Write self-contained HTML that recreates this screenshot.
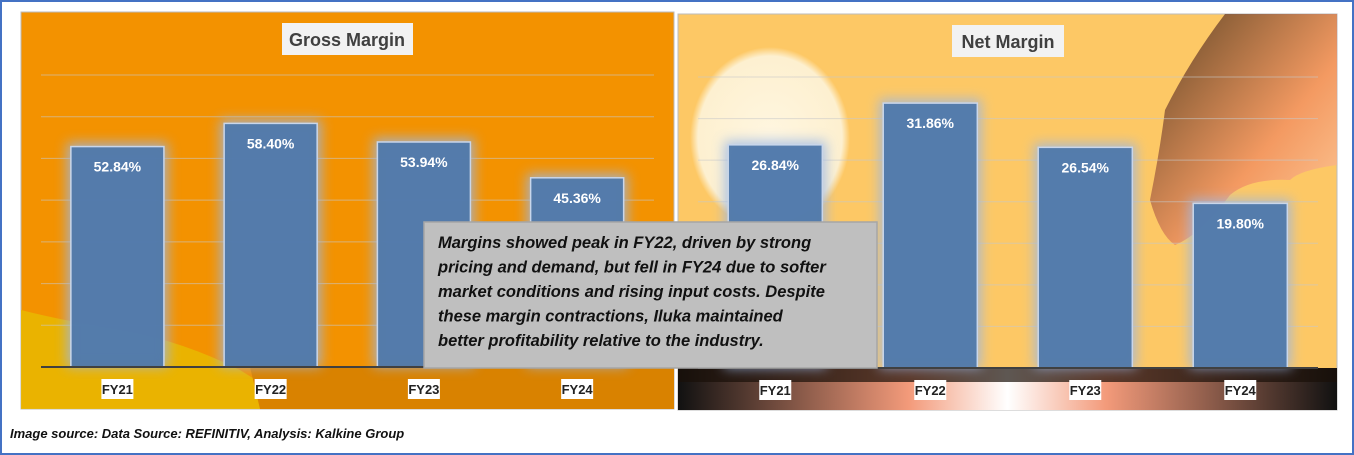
<!DOCTYPE html>
<html><head><meta charset="utf-8"><style>
body{margin:0;width:1354px;height:455px;overflow:hidden;background:#fff;font-family:"Liberation Sans",sans-serif}
svg{display:block}
</style></head><body>
<svg id="s" width="1354" height="455" viewBox="0 0 1354 455">
<defs>
<filter id="glow" x="-30%" y="-30%" width="160%" height="160%"><feGaussianBlur stdDeviation="6"/></filter>
<radialGradient id="sun" cx="0.5" cy="0.5" r="0.5"><stop offset="0" stop-color="#fff6e0"/><stop offset="0.9" stop-color="#fdf0d0"/><stop offset="1" stop-color="#fdc865"/></radialGradient>
<linearGradient id="smoke" x1="0" y1="0" x2="1" y2="1"><stop offset="0" stop-color="#2a1a10"/><stop offset="0.6" stop-color="#f08a60"/><stop offset="1" stop-color="#ffd0b0"/></linearGradient>
<linearGradient id="ground" x1="0" y1="0" x2="1" y2="0"><stop offset="0" stop-color="#111"/><stop offset="0.35" stop-color="#f39a7a"/><stop offset="0.5" stop-color="#fff"/><stop offset="0.65" stop-color="#f39a7a"/><stop offset="1" stop-color="#111"/></linearGradient>
</defs>
<rect x="1" y="1" width="1352" height="453" fill="#fff" stroke="#4472c4" stroke-width="2"/>
<g>
<rect x="21" y="12" width="653" height="397" fill="#f39200" stroke="#bbb"/>
<path d="M21 310 Q60 320 120 330 Q180 340 240 370 Q280 395 300 409 L21 409Z" fill="#e8b800" opacity="0.85"/>
<path d="M250 367 L674 367 L674 409 L260 409Z" fill="#d98200"/>
</g>
<g>
<rect x="678" y="14" width="659" height="396" fill="#fdc865" stroke="#bbb"/>
<ellipse cx="770" cy="138" rx="80" ry="91" fill="url(#sun)"/>
<path d="M1225 14 L1337 14 L1337 165 Q1300 170 1290 180 Q1250 178 1230 195 Q1200 235 1175 245 Q1160 235 1150 200 Q1160 150 1165 110 Q1190 60 1225 14Z" fill="url(#smoke)" opacity="0.75"/>
<path d="M678 368 L1337 368 L1337 410 L678 410Z" fill="url(#ground)"/>
<path d="M678 368 L1337 368 L1337 382 L678 382Z" fill="#1a1008" opacity="0.7"/>
</g>
<g id="gross"></g>
<g id="net"></g>
<rect x="282" y="23" width="131" height="32" fill="#f2f2f2"/>
<text x="347" y="46" text-anchor="middle" font-size="18" font-weight="bold" fill="#404040">Gross Margin</text>
<rect x="952" y="25" width="112" height="32" fill="#f2f2f2"/>
<text x="1008" y="48" text-anchor="middle" font-size="18" font-weight="bold" fill="#404040">Net Margin</text>
<g>
<rect x="424" y="222" width="453" height="146" fill="#bfbfbf" stroke="#a6a6a6" stroke-width="1.5"/>
<text font-size="16.5" font-weight="bold" font-style="italic" fill="#111">
<tspan x="438" y="248">Margins showed peak in FY22, driven by strong</tspan>
<tspan x="438" y="272.5">pricing and demand, but fell in FY24 due to softer</tspan>
<tspan x="438" y="297">market conditions and rising input costs. Despite</tspan>
<tspan x="438" y="321.5">these margin contractions, Iluka maintained</tspan>
<tspan x="438" y="346">better profitability relative to the industry.</tspan>
</text>
</g>
<text x="10" y="438" font-size="13" font-weight="bold" font-style="italic" fill="#111">Image source: Data Source: REFINITIV, Analysis: Kalkine Group</text>
</svg>
<script>
const categories = ["FY21","FY22","FY23","FY24"];
const grossValues = [52.84, 58.40, 53.94, 45.36];
const netValues = [26.84, 31.86, 26.54, 19.80];
const grossLabels = ["52.84%","58.40%","53.94%","45.36%"];
const netLabels = ["26.84%","31.86%","26.54%","19.80%"];
const grossMax = 70, grossStep = 10;
const netMax = 35, netStep = 5;
const NS = "http://www.w3.org/2000/svg";
function mk(tag, attrs, parent){const e=document.createElementNS(NS,tag);for(const k in attrs)e.setAttribute(k,attrs[k]);parent.appendChild(e);return e;}
function draw(gid, cfg, vals, labels, max, step){
  const g=document.getElementById(gid);
  const y=v=>cfg.base-(v/max)*(cfg.base-cfg.top);
  const band=(cfg.x1-cfg.x0)/categories.length;
  const x=i=>cfg.x0+band*i+band*0.195;
  const bw=band*0.607;
  for(let v=step; v<=max; v+=step){
    const l=mk('line',{x1:cfg.x0,x2:cfg.x1,y1:y(v),y2:y(v),stroke:'#c8c8c8','stroke-opacity':0.6,'stroke-width':1},g);
    
    
  }
  vals.forEach((v,i)=>{
    const gl=mk('rect',{x:x(i)-4,y:y(v)-4,width:bw+8,height:cfg.base-y(v)+4,fill:'#9ab8e8',opacity:0.8,filter:'url(#glow)'},g);
    
    
    const r=mk('rect',{x:x(i),y:y(v),width:bw,height:cfg.base-y(v),fill:'#4f78aa','fill-opacity':0.95,stroke:'#c9d6ea','stroke-width':1.5},g);
    
    
    const t=mk('text',{x:x(i)+bw/2,y:y(v)+25,'text-anchor':'middle','font-size':14,'font-weight':'bold',fill:'#fff'},g);
    t.textContent=labels[i];
    
    
    const cx=x(i)+bw/2;
    const bg=mk('rect',{x:cx-16,y:cfg.base+12,width:32,height:20,fill:'#fff'},g);
    
    
    const c=mk('text',{x:cx,y:cfg.base+27,'text-anchor':'middle','font-size':13,'font-weight':'bold',fill:'#222'},g);
    c.textContent=categories[i];
    
    
  });
  const ax=mk('line',{x1:cfg.x0,x2:cfg.x1,y1:cfg.base,y2:cfg.base,stroke:'#404040','stroke-width':2},g);
  
  
}
draw('gross',{x0:41,x1:654,top:75,base:367},grossValues,grossLabels,grossMax,grossStep);
draw('net',{x0:698,x1:1318,top:77,base:368},netValues,netLabels,netMax,netStep);
</script>
</body></html>
